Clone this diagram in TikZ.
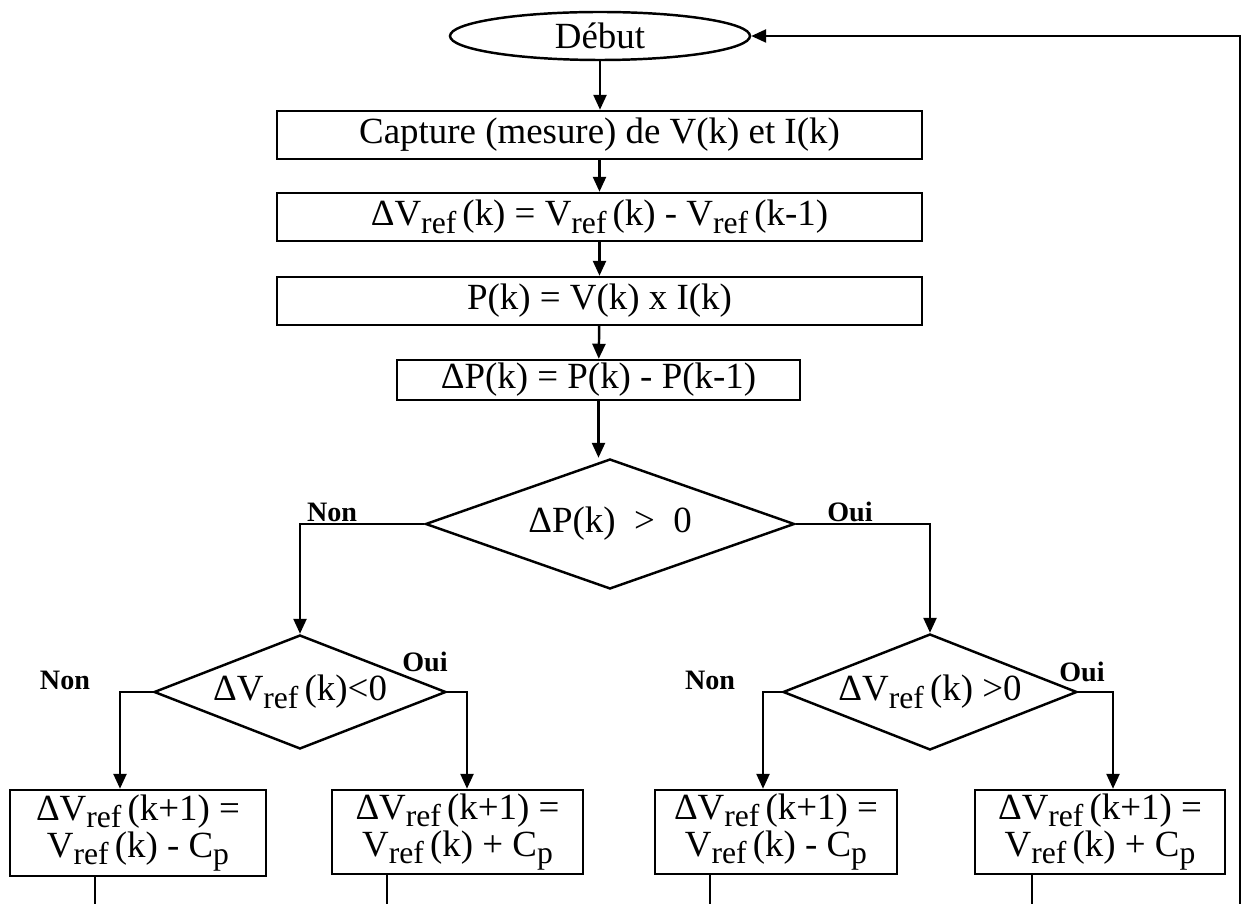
\documentclass[tikz,border=0pt]{standalone}
\usepackage{fontspec}
\setmainfont{Liberation Serif}
\usetikzlibrary{shapes.geometric,arrows.meta}
\newcommand\lsub[1]{\raisebox{-0.45ex}{\fontsize{18}{18}\selectfont #1}}
\newcommand\Vr{V\lsub{ref}\,}
\begin{document}
\begin{tikzpicture}[
  line width=1.4pt,
  every node/.style={font=\fontsize{21}{24}\selectfont},
  stepbox/.style={draw, rectangle, inner sep=0pt, align=center},
  decision/.style={draw, diamond, aspect=2.6, inner sep=0pt},
  lab/.style={font=\fontsize{16}{18}\selectfont\bfseries},
  arr/.style={-{Triangle[length=3mm,width=2.6mm]}},
]
\useasboundingbox (0,0) rectangle (24.9,-18.08);
\node[draw, ellipse, minimum width=6cm, minimum height=0.96cm, inner sep=0pt] (deb) at (12.0,-0.72) {Début};
\node[stepbox, minimum width=12.9cm, minimum height=0.96cm] (b1) at (11.99,-2.7) {Capture (mesure) de V(k) et I(k)};
\node[stepbox, minimum width=12.9cm, minimum height=0.96cm] (b2) at (11.99,-4.34) {ΔV\lsub{ref}\,(k) = \Vr(k) - \Vr(k-1)};
\node[stepbox, minimum width=12.9cm, minimum height=0.96cm] (b3) at (11.99,-6.02) {P(k) = V(k) x I(k)};
\node[stepbox, minimum width=8.06cm, minimum height=0.8cm] (b4) at (11.97,-7.6) {ΔP(k) = P(k) - P(k-1)};
\node[decision, minimum width=7.38cm, minimum height=2.6cm] (d1) at (12.2,-10.48) {ΔP(k) \ > \ 0};
\node[decision, minimum width=5.84cm, minimum height=2.28cm] (d2) at (6.0,-13.84) {ΔV\lsub{ref}\,(k)<0};
\node[decision, minimum width=5.88cm, minimum height=2.32cm] (d3) at (18.6,-13.84) {ΔV\lsub{ref}\,(k) >0};
\node[stepbox, minimum width=5.12cm, minimum height=1.72cm] (b5) at (2.76,-16.66) {ΔV\lsub{ref}\,(k+1) =\\[-3pt] \Vr(k) - C\lsub{p}};
\node[stepbox, minimum width=5.02cm, minimum height=1.68cm] (b6) at (9.15,-16.64) {ΔV\lsub{ref}\,(k+1) =\\[-3pt] \Vr(k) + C\lsub{p}};
\node[stepbox, minimum width=4.84cm, minimum height=1.68cm] (b7) at (15.52,-16.64) {ΔV\lsub{ref}\,(k+1) =\\[-3pt] \Vr(k) - C\lsub{p}};
\node[stepbox, minimum width=5.0cm, minimum height=1.68cm] (b8) at (22.0,-16.64) {ΔV\lsub{ref}\,(k+1) =\\[-3pt] \Vr(k) + C\lsub{p}};
\node[lab] (n1) at (6.64,-10.24) {Non};
\node[lab] (o1) at (17.0,-10.24) {Oui};
\node[lab] (n2) at (1.3,-13.6) {Non};
\node[lab] (o2) at (8.5,-13.24) {Oui};
\node[lab] (n3) at (14.2,-13.6) {Non};
\node[lab] (o3) at (21.64,-13.44) {Oui};
\coordinate (e5) at (1.9,-18.08);
\coordinate (e6) at (7.74,-18.08);
\coordinate (e7) at (14.2,-18.08);
\coordinate (e8) at (20.64,-18.08);
\coordinate (fb) at (24.8,-18.08);
\draw[arr] (deb.south) -- (deb.south |- b1.north);
\draw[arr] (b1) -- (b2);
\draw[arr] (b2) -- (b3);
\draw[arr] (b3) -- (b4);
\draw[arr] (b4.south) -- (b4.south |- d1.north);
\draw[arr] (d1.west) -| (d2.north);
\draw[arr] (d1.east) -| (d3.north);
\draw[arr] (d2.west) -| ([xshift=-0.36cm]b5.north);
\draw[arr] (d2.east) -| ([xshift=0.19cm]b6.north);
\draw[arr] (d3.west) -| ([xshift=-0.26cm]b7.north);
\draw[arr] (d3.east) -| ([xshift=0.26cm]b8.north);
\draw (b5.south -| e5) -- (e5);
\draw (b6.south -| e6) -- (e6);
\draw (b7.south -| e7) -- (e7);
\draw (b8.south -| e8) -- (e8);
\draw[arr] (fb) |- (deb.east);
\end{tikzpicture}
\end{document}
